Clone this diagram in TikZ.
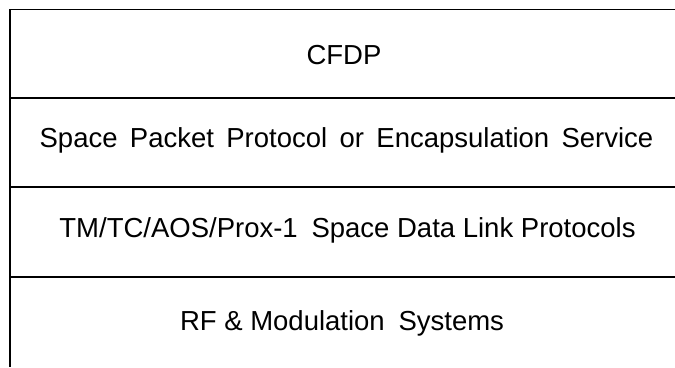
\documentclass[tikz,border=0pt]{standalone}
\usepackage{fontspec}
\setmainfont{Liberation Sans}
\begin{document}
\begin{tikzpicture}[x=1pt,y=1pt,
  lbl/.style={anchor=base,inner sep=0pt,font=\fontsize{27.5}{31}\selectfont},
  rule/.style={draw=black,line width=1.2pt}]
\useasboundingbox (0,0) rectangle (675,367);
\coordinate (tl) at (10,357.5);
\coordinate (tr) at (675,357.5);
\coordinate (bl) at (10,0);
\coordinate (l1) at (10,268.5); \coordinate (r1) at (675,268.5);
\coordinate (l2) at (10,180);   \coordinate (r2) at (675,180);
\coordinate (l3) at (10,90);    \coordinate (r3) at (675,90);
\draw[rule,line width=1pt] (tl) -- (tr);
\draw[rule] (tl) -- (bl);
\draw[rule,line width=2pt] (l1) -- (r1);
\draw[rule] (l2) -- (r2);
\draw[rule] (l3) -- (r3);
\node[lbl] (cfdp) at (344,302) {CFDP};
\node[lbl] (spp) at (346.5,219) {Space\hspace{0.45em}Packet\hspace{0.45em}Protocol\hspace{0.45em}or\hspace{0.45em}Encapsulation\hspace{0.45em}Service};
\node[lbl] (tm) at (347.5,129) {TM/TC/AOS/Prox-1\hspace{0.5em}Space Data Link Protocols};
\node[lbl] (rf) at (342,37) {RF \& Modulation\hspace{0.5em}Systems};
\end{tikzpicture}
\end{document}
